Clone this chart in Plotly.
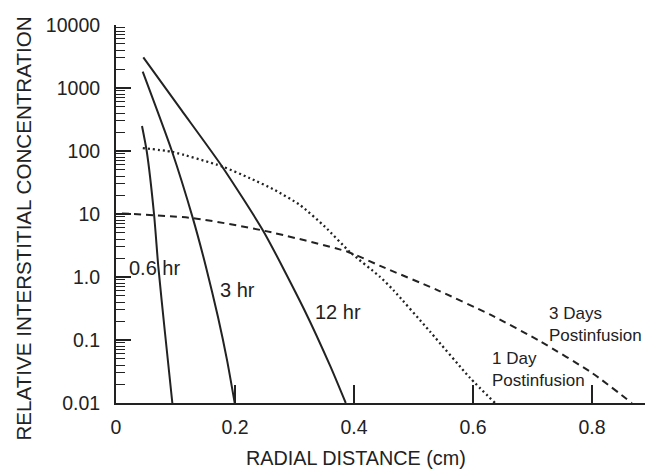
import plotly.graph_objects as go

# Radial distance (cm) and relative interstitial concentration for each curve
x_06hr = [0.0437, 0.0516, 0.0639, 0.0711, 0.0824, 0.0947]
y_06hr = [250, 100, 10, 1.46, 0.128, 0.01]

x_3hr = [0.0449, 0.0939, 0.1291, 0.1511, 0.1713, 0.1866, 0.1995]
y_3hr = [1820, 100, 8.6, 1.46, 0.234, 0.048, 0.01]

x_12hr = [0.0459, 0.110, 0.1777, 0.2482, 0.3166, 0.3605, 0.3861]
y_12hr = [3070, 445, 57.8, 5.24, 0.30, 0.0377, 0.01]

x_1day = [0.045, 0.094, 0.178, 0.225, 0.267, 0.309, 0.351, 0.393, 0.444, 0.466, 0.528, 0.595, 0.637]
y_1day = [111, 97, 57, 37, 24, 13.9, 6.3, 2.5, 1.0, 0.62, 0.135, 0.025, 0.01]

x_3day = [0.010, 0.130, 0.250, 0.390, 0.444, 0.540, 0.630, 0.713, 0.800, 0.867]
y_3day = [10.2, 8.6, 5.4, 2.5, 1.5, 0.62, 0.25, 0.095, 0.03, 0.01]

y_tickvals = [0.01, 0.1, 1, 10, 100, 1000, 10000]
y_ticktext = ["0.01", "0.1", "1.0", "10", "100", "1000", "10000"]
x_tickvals = [0, 0.2, 0.4, 0.6, 0.8]
x_ticktext = ["0", "0.2", "0.4", "0.6", "0.8"]

INK = "#222222"
FONT = "Liberation Sans, Arial, sans-serif"

fig = go.Figure()

def add(x, y, dash, width=2):
    fig.add_trace(go.Scatter(
        x=x, y=y, mode="lines",
        line=dict(color=INK, width=width, dash=dash, shape="spline", smoothing=0.6),
        showlegend=False, hoverinfo="skip"))

add(x_06hr, y_06hr, "solid")
add(x_3hr, y_3hr, "solid")
add(x_12hr, y_12hr, "solid")
add(x_1day, y_1day, "2px,3px", 2.3)
add(x_3day, y_3day, "7px,5px")

ann_font = dict(family=FONT, size=20, color=INK)
ann_font2 = dict(family=FONT, size=17, color=INK)
annotations = [
    dict(x=0.0647, y=0.143, text="0.6 hr", font=ann_font, xanchor="center", yanchor="middle"),
    dict(x=0.205, y=-0.206, text="3 hr", font=ann_font, xanchor="center", yanchor="middle"),
    dict(x=0.373, y=-0.556, text="12 hr", font=ann_font, xanchor="center", yanchor="middle"),
    dict(x=0.6286, y=-1.468, text="1 Day<br>Postinfusion", font=ann_font2, align="left",
         xanchor="left", yanchor="middle"),
    dict(x=0.7235, y=-0.754, text="3 Days<br>Postinfusion", font=ann_font2, align="left",
         xanchor="left", yanchor="middle"),
]
for a in annotations:
    a.update(xref="x", yref="y", showarrow=False)

# axis titles placed as paper-anchored text (they sit off-centre in the original)
annotations += [
    dict(x=0.4537, y=-0.1468, xref="paper", yref="paper", text="RADIAL DISTANCE (cm)",
         font=dict(family=FONT, size=19.8, color=INK), showarrow=False,
         xanchor="center", yanchor="middle"),
    dict(x=-0.1739, y=0.4616, xref="paper", yref="paper", text="RELATIVE INTERSTITIAL CONCENTRATION",
         font=dict(family=FONT, size=20.6, color=INK), showarrow=False, textangle=-90,
         xanchor="center", yanchor="middle"),
]

fig.update_layout(
    width=645, height=469,
    margin=dict(l=116, r=0, t=25, b=66),
    paper_bgcolor="white", plot_bgcolor="white",
    font=dict(family=FONT, size=20, color=INK),
    annotations=annotations,
    xaxis=dict(
        range=[0, 0.889], showgrid=False, zeroline=False,
        showline=True, linecolor=INK, linewidth=2,
        tickvals=x_tickvals, ticktext=x_ticktext,
        ticks="inside", ticklen=18, tickwidth=1.5, tickcolor=INK,
        tickfont=dict(family=FONT, size=19.5, color=INK),
        ticklabelstandoff=6,
        automargin=False,
    ),
    yaxis=dict(
        type="log", range=[-2, 4], showgrid=False, zeroline=False,
        showline=True, linecolor=INK, linewidth=2,
        tickvals=y_tickvals, ticktext=y_ticktext,
        ticks="inside", ticklen=15, tickwidth=1.5, tickcolor=INK,
        minor=dict(ticks="inside", ticklen=9, tickwidth=1.2, tickcolor=INK, dtick="D1", showgrid=False),
        tickfont=dict(family=FONT, size=19.5, color=INK),
        ticklabelstandoff=10,
        automargin=False,
    ),
)

# remove the default page margin so the 645x469 figure fills the window exactly
fig.write_html(
    "out.html",
    config={"displayModeBar": False},
    post_script="document.body.style.margin='0';document.body.style.overflow='hidden';",
)
